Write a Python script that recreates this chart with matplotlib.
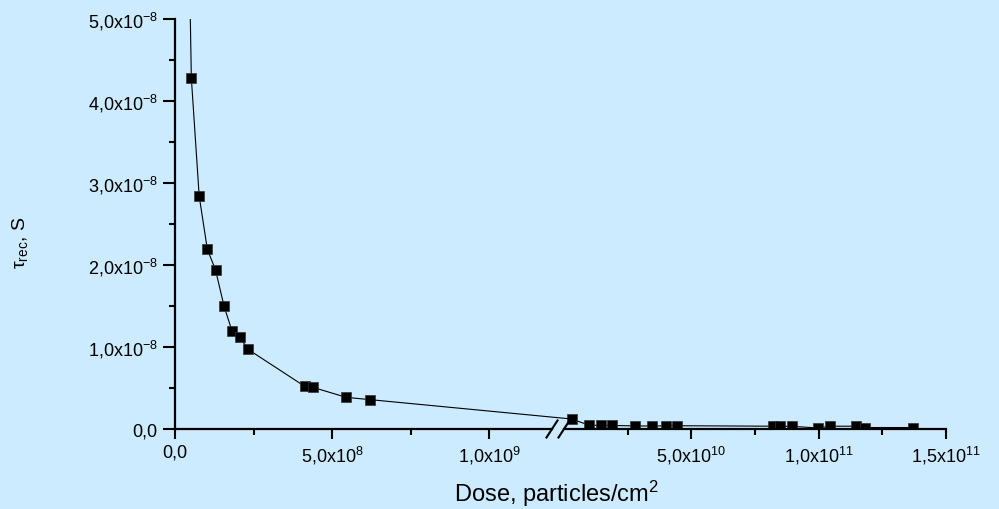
"""
Recombination lifetime vs irradiation dose, broken x axis.
"""

import numpy as np
import matplotlib
matplotlib.use('Agg')
import matplotlib.pyplot as plt
from matplotlib.patches import ConnectionPatch

plt.rcParams.update({
    'font.family': ['Liberation Sans', 'DejaVu Sans'],
    'mathtext.fontset': 'custom',
    'mathtext.rm': 'Liberation Sans',
    'mathtext.it': 'Liberation Sans:italic',
    'mathtext.sf': 'Liberation Sans',
    'font.size': 13,
})
BG = '#ccebff'

# low-dose part (left of the break)
left_dose = [4.0e7, 5.2e7, 7.7e7, 1.03e8, 1.29e8, 1.56e8, 1.81e8, 2.06e8,
             2.33e8, 4.13e8, 4.39e8, 5.45e8, 6.21e8]
left_tau = [7.0e-8, 4.28e-8, 2.84e-8, 2.19e-8, 1.94e-8, 1.50e-8, 1.20e-8,
            1.12e-8, 9.7e-9, 5.2e-9, 5.08e-9, 3.86e-9, 3.58e-9]

# high-dose part (right of the break)
right_dose = [3.0e9, 9.9e9, 1.44e10, 1.9e10, 2.78e10, 3.46e10, 4.0e10,
              4.43e10, 8.22e10, 8.49e10, 8.97e10, 9.99e10, 1.045e11,
              1.146e11, 1.183e11, 1.369e11]
right_tau = [1.22e-9, 4.6e-10, 4.4e-10, 4.3e-10, 3.8e-10, 3.6e-10, 3.9e-10,
             4.0e-10, 3.4e-10, 3.4e-10, 3.2e-10, 1.2e-10, 3.4e-10, 3.4e-10,
             1.8e-10, 1.8e-10]

left_xticks = [0, 5e8, 1e9]
left_xlabels = ['0,0', '5,0x10$^{8}$', '1,0x10$^{9}$']
left_xminor = [2.5e8, 7.5e8]
right_xticks = [5e10, 1e11, 1.5e11]
right_xlabels = ['5,0x10$^{10}$', '1,0x10$^{11}$', '1,5x10$^{11}$']
right_xminor = [2.5e10, 7.5e10, 1.25e11]
yticks = [0, 1e-8, 2e-8, 3e-8, 4e-8, 5e-8]
ylabels = ['0,0', '1,0x10$^{-8}$', '2,0x10$^{-8}$', '3,0x10$^{-8}$',
           '4,0x10$^{-8}$', '5,0x10$^{-8}$']
yminor = [0.5e-8, 1.5e-8, 2.5e-8, 3.5e-8, 4.5e-8]

fig = plt.figure(figsize=(9.99, 5.10), dpi=100, facecolor=BG)
ax1 = fig.add_axes([175 / 999, 80 / 510, 377 / 999, 410 / 510], facecolor=BG)
ax2 = fig.add_axes([564 / 999, 80 / 510, 382 / 999, 410 / 510], facecolor=BG)

style = dict(color='black', lw=0.8, marker='s', ms=7.6,
             mfc='black', mec='#333333', mew=0.5)
ax1.plot(left_dose, left_tau, **style)
ax2.plot(right_dose, right_tau, **style)

# line across the break
con = ConnectionPatch(xyA=(left_dose[-1], left_tau[-1]), coordsA=ax1.transData,
                      xyB=(right_dose[0], right_tau[0]), coordsB=ax2.transData,
                      color='black', lw=0.8, zorder=1)
fig.add_artist(con)

for ax in (ax1, ax2):
    ax.set_ylim(0, 5e-8)
    ax.spines['top'].set_visible(False)
    ax.spines['right'].set_visible(False)
    ax.spines['bottom'].set_linewidth(1.6)
    ax.spines['left'].set_linewidth(1.6)
    ax.tick_params(axis='x', which='major', direction='out', length=7.2,
                   width=1.5, pad=3.5, labelsize=13)
    ax.tick_params(axis='x', which='minor', direction='out', length=4,
                   width=1.5)

ax1.set_xlim(0, 1.2e9)
ax1.set_xticks(left_xticks)
ax1.set_xticklabels(left_xlabels)
ax1.set_xticks(left_xminor, minor=True)
ax1.set_yticks(yticks)
ax1.set_yticklabels(ylabels)
ax1.set_yticks(yminor, minor=True)
ax1.tick_params(axis='y', which='major', direction='out', length=8.4,
                width=1.5, pad=4, labelsize=13)
ax1.tick_params(axis='y', which='minor', direction='out', length=4.2, width=1.5)

ax2.set_xlim(0, 1.5e11)
ax2.set_xticks(right_xticks)
ax2.set_xticklabels(right_xlabels)
ax2.set_xticks(right_xminor, minor=True)
ax2.spines['left'].set_visible(False)
ax2.tick_params(axis='y', which='both', left=False, labelleft=False)

# break marks
dy = 8.5 / 410
ax1.plot([1 - 5.5 / 377, 1 + 5.5 / 377], [-dy, dy], color='black', lw=1.5,
         transform=ax1.transAxes, clip_on=False)
ax2.plot([-5.5 / 382, 5.5 / 382], [-dy, dy], color='black', lw=1.5,
         transform=ax2.transAxes, clip_on=False)

ax1.set_ylabel('τ$_{\\mathregular{rec}}$, S', fontsize=14)
ax1.yaxis.set_label_coords(-0.385, 0.456)
fig.text(556 / 999, 1 - 494 / 510, 'Dose, particles/cm$^{2}$', fontsize=17,
         ha='center', va='center')

plt.savefig('out.png', dpi=100, facecolor=BG)
plt.close()
